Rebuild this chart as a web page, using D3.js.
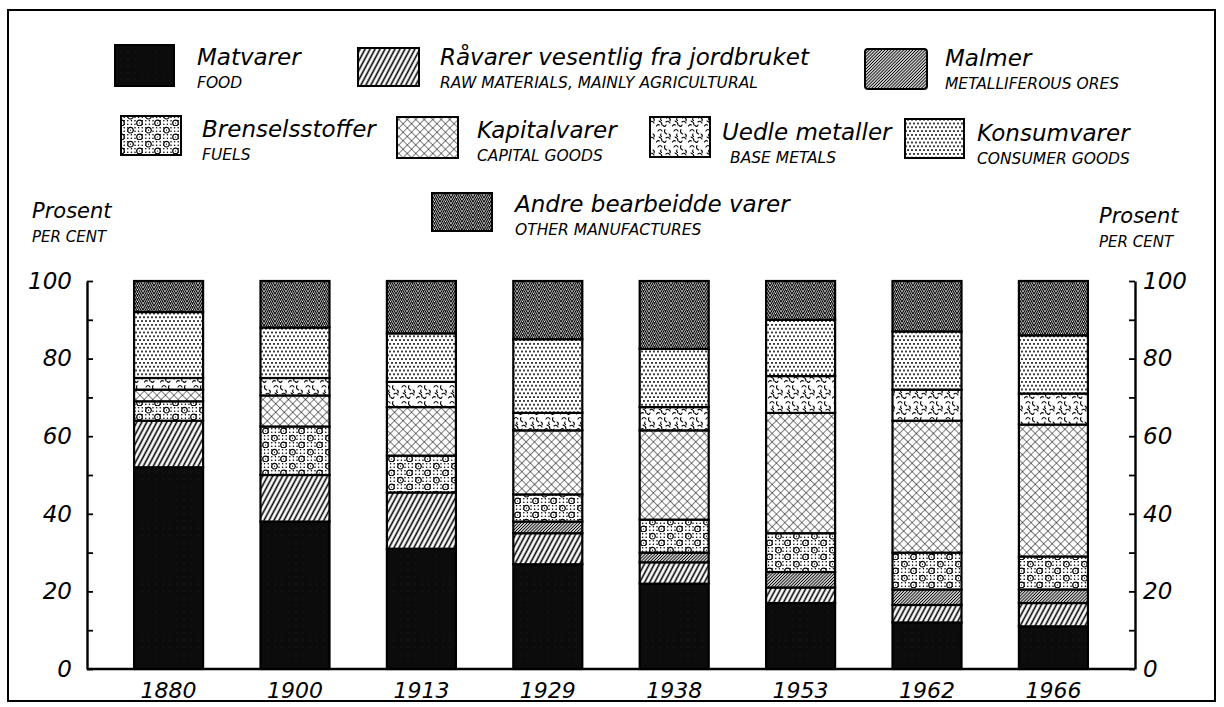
<!DOCTYPE html>
<html>
<head>
<meta charset="utf-8">
<script src="https://cdn.jsdelivr.net/npm/d3@7"></script>
<style>
  html, body { margin: 0; padding: 0; background: #fff; }
  svg { display: block; }
  text { font-family: "DejaVu Sans", sans-serif; font-style: italic; fill: #000; }
</style>
</head>
<body>
<svg id="chart" width="1224" height="707"></svg>
<script>
// ---------------- data ----------------
const years = ["1880", "1900", "1913", "1929", "1938", "1953", "1962", "1966"];
const food              = [52, 38, 31, 27, 22, 17, 12, 11];
const rawMaterials      = [12, 12, 14.5, 8, 5.5, 4, 4.5, 6];
const ores              = [0, 0, 0, 3, 2.5, 4, 4, 3.5];
const fuels             = [5, 12.5, 9.5, 7, 8.5, 10, 9.5, 8.5];
const capitalGoods      = [3, 8, 12.5, 16.5, 23, 31, 34, 34];
const baseMetals        = [3, 4.5, 6.5, 4.5, 6, 9.5, 8, 8];
const consumerGoods     = [17, 13, 12.5, 19, 15, 14.5, 15, 15];
const otherManufactures = [8, 12, 13.5, 15, 17.5, 10, 13, 14];

const seriesKeys   = ["food", "raw", "ores", "fuels", "capital", "base", "consumer", "other"];
const seriesValues = [food, rawMaterials, ores, fuels, capitalGoods, baseMetals, consumerGoods, otherManufactures];
const namesNo = ["Matvarer", "Råvarer vesentlig fra jordbruket", "Malmer", "Brenselsstoffer",
                 "Kapitalvarer", "Uedle metaller", "Konsumvarer", "Andre bearbeidde varer"];
const namesEn = ["FOOD", "RAW MATERIALS, MAINLY AGRICULTURAL", "METALLIFEROUS ORES", "FUELS",
                 "CAPITAL GOODS", "BASE METALS", "CONSUMER GOODS", "OTHER MANUFACTURES"];
const yTicks = [0, 20, 40, 60, 80, 100];
const yMinorTicks = [0, 10, 20, 30, 40, 50, 60, 70, 80, 90, 100];
const axisTitle = "Prosent";
const axisSub = "PER CENT";

// ---------------- setup ----------------
const svg = d3.select("#chart");
const defs = svg.append("defs");

function pat(id, w, h, rot) {
  const p = defs.append("pattern").attr("id", id).attr("patternUnits", "userSpaceOnUse")
    .attr("width", w).attr("height", h);
  if (rot) p.attr("patternTransform", `rotate(${rot})`);
  p.append("rect").attr("width", w).attr("height", h).attr("fill", "#fff");
  return p;
}
// food: solid black
(function () {
  const p = pat("p-food", 7, 7);
  p.select("rect").attr("fill", "#0c0c0c");
  p.append("circle").attr("cx", 2).attr("cy", 3).attr("r", 0.35).attr("fill", "#555");
})();
// raw: hatch
(function () {
  const p = pat("p-raw", 4.4, 10, 28);
  p.append("line").attr("x1", 2.2).attr("x2", 2.2).attr("y1", -1).attr("y2", 11)
    .attr("stroke", "#000").attr("stroke-width", 1.6);
})();
// ores: dense fine hatch (gray)
(function () {
  const p = pat("p-ores", 2.2, 10, 45);
  p.append("line").attr("x1", 1.1).attr("x2", 1.1).attr("y1", -1).attr("y2", 11)
    .attr("stroke", "#000").attr("stroke-width", 1.05);
})();
// fuels: dots + rings
(function () {
  const p = pat("p-fuels", 18, 14);
  for (let i = 0; i < 5; i++) for (let j = 0; j < 4; j++) {
    p.append("circle").attr("cx", i * 3.6 + 1.8).attr("cy", j * 3.5 + 1.75).attr("r", 0.8).attr("fill", "#000");
  }
  [[4.5, 4.2], [13.5, 11]].forEach(c => {
    p.append("circle").attr("cx", c[0]).attr("cy", c[1]).attr("r", 2.8)
      .attr("fill", "#fff").attr("stroke", "#000").attr("stroke-width", 1.2);
    p.append("circle").attr("cx", c[0]).attr("cy", c[1]).attr("r", 0.6).attr("fill", "#000");
  });
})();
// capital: crosshatch
(function () {
  const p = pat("p-capital", 6, 6, 45);
  p.append("path").attr("d", "M0,0H6M0,0V6").attr("stroke", "#000").attr("stroke-width", 1).attr("fill", "none");
})();
// base metals: squiggles
(function () {
  const p = pat("p-base", 16, 16);
  const ds = ["M2,3 q2,-3 4,0", "M9,1.5 q-1.5,3 1.5,4.5", "M13,6 q2,1 1,3", "M3,9 q3,1 3,4",
              "M10,10 q2,-2 4,1", "M0.5,14 q1,-2 3,-1", "M7,13.5 q2,2 3,-0.5", "M5,6 q-1,1.5 0.5,2.5"];
  ds.forEach(d => p.append("path").attr("d", d).attr("stroke", "#000").attr("stroke-width", 1.1)
    .attr("fill", "none").attr("stroke-linecap", "round"));
})();
// consumer: dot grid
(function () {
  const p = pat("p-consumer", 8, 7.6);
  [[2, 1.9], [6, 1.9], [0, 5.7], [4, 5.7], [8, 5.7]].forEach(c =>
    p.append("circle").attr("cx", c[0]).attr("cy", c[1]).attr("r", 1.0).attr("fill", "#000"));
})();
// other: stacked zigzag (herringbone)
(function () {
  const p = pat("p-other", 11, 12);
  let d = "";
  for (let y0 = -16; y0 <= 16; y0 += 4) d += `M-0.5,${y0 - 1.1} L5.5,${y0 + 12} L11.5,${y0 - 1.1} `;
  p.append("path").attr("d", d).attr("stroke", "#000").attr("stroke-width", 1.1).attr("fill", "none");
})();

// ---------------- scales ----------------
const x = d3.scaleBand().domain(years).range([87, 1135]).paddingInner(0.454).paddingOuter(0.3725);
const y = d3.scaleLinear().domain([0, 100]).range([669, 281]);

const table = years.map((yr, i) => {
  const row = { year: yr };
  seriesKeys.forEach((k, j) => row[k] = seriesValues[j][i]);
  return row;
});
const stacked = d3.stack().keys(seriesKeys)(table);

// frame
svg.append("rect").attr("x", 8).attr("y", 10).attr("width", 1207).attr("height", 691)
  .attr("fill", "none").attr("stroke", "#000").attr("stroke-width", 2);

// bars
const g = svg.append("g");
stacked.forEach(layer => {
  g.append("g").selectAll("rect").data(layer.filter(d => d[1] - d[0] > 0)).join("rect")
    .attr("x", d => x(d.data.year))
    .attr("width", x.bandwidth())
    .attr("y", d => y(d[1]))
    .attr("height", d => y(d[0]) - y(d[1]))
    .attr("fill", `url(#p-${layer.key})`)
    .attr("stroke", "#000").attr("stroke-width", 2.2);
});

// axes
const leftTicks = svg.append("g").attr("transform", "translate(87,0)")
  .call(d3.axisLeft(y).tickValues(yMinorTicks).tickSize(-6).tickSizeOuter(0).tickFormat(""));
const rightTicks = svg.append("g").attr("transform", "translate(1135,0)")
  .call(d3.axisRight(y).tickValues(yMinorTicks).tickSize(-6).tickSizeOuter(0).tickFormat(""));
[leftTicks, rightTicks].forEach(a => {
  a.select(".domain").attr("stroke", "#000").attr("stroke-width", 2.4);
  a.selectAll(".tick line").attr("stroke", "#000").attr("stroke-width", 1.8);
});
const leftLab = svg.append("g").attr("transform", "translate(87,0)")
  .call(d3.axisLeft(y).tickValues(yTicks).tickSize(0).tickPadding(15));
const rightLab = svg.append("g").attr("transform", "translate(1135,0)")
  .call(d3.axisRight(y).tickValues(yTicks).tickSize(0).tickPadding(8));
[leftLab, rightLab].forEach(a => {
  a.select(".domain").remove();
  a.selectAll("text").attr("font-size", 23).attr("font-family", "DejaVu Sans").attr("font-style", "italic");
});

// bottom axis
const bottom = svg.append("g").attr("transform", "translate(0,669)")
  .call(d3.axisBottom(x).tickSize(0).tickPadding(13).tickSizeOuter(0));
bottom.select(".domain").attr("stroke", "#000").attr("stroke-width", 2.4)
  .attr("d", "M87,0H1135");
bottom.selectAll("text").attr("font-size", 22).attr("font-family", "DejaVu Sans").attr("font-style", "italic");

// axis titles
function titleBlock(xp, yb, t1, t2) {
  svg.append("text").attr("x", xp).attr("y", yb).attr("font-size", 21).text(t1);
  svg.append("text").attr("x", xp).attr("y", yb + 24).attr("font-size", 15).text(t2);
}
titleBlock(32, 218, axisTitle, axisSub);
titleBlock(1099, 223, axisTitle, axisSub);

// legend
const legendLayout = [
  { sx: 115, sy: 45, sw: 59, sh: 41, tx: 197, ty: 65 },
  { sx: 358, sy: 48, sw: 61, sh: 38, tx: 440, ty: 65 },
  { sx: 865, sy: 49, sw: 62, sh: 40, tx: 945, ty: 66 },
  { sx: 121, sy: 116, sw: 60, sh: 39, tx: 202, ty: 137 },
  { sx: 397, sy: 117, sw: 61, sh: 41, tx: 477, ty: 138 },
  { sx: 650, sy: 117, sw: 60, sh: 40, tx: 722, ty: 140 },
  { sx: 905, sy: 119, sw: 59, sh: 39, tx: 977, ty: 141 },
  { sx: 432, sy: 193, sw: 60, sh: 38, tx: 515, ty: 212 }
];
seriesKeys.forEach((k, i) => {
  const L = legendLayout[i];
  svg.append("rect").attr("x", L.sx).attr("y", L.sy).attr("width", L.sw).attr("height", L.sh)
    .attr("fill", `url(#p-${k})`).attr("stroke", "#000").attr("stroke-width", 2).attr("rx", i === 2 ? 3 : 0);
  svg.append("text").attr("x", L.tx).attr("y", L.ty).attr("font-size", 23).text(namesNo[i]);
  svg.append("text").attr("x", L.tx + (k === "base" ? 8 : 0)).attr("y", L.ty + 23)
    .attr("font-size", 15.5).text(namesEn[i]);
});
</script>
</body>
</html>
